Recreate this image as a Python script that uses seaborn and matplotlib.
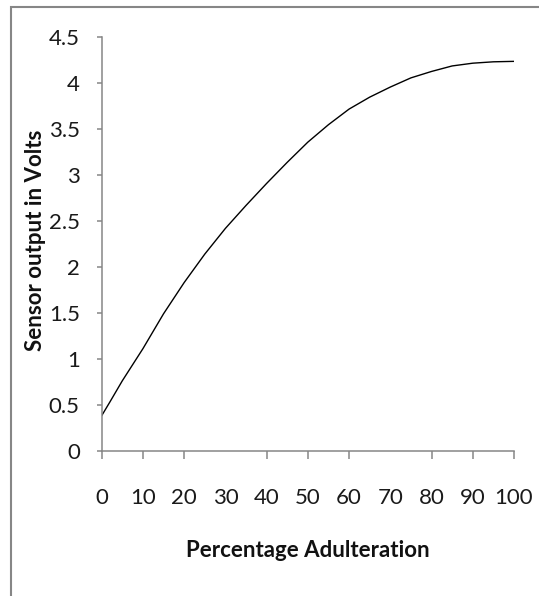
import numpy as np
import pandas as pd
import matplotlib
matplotlib.use("Agg")
import matplotlib.pyplot as plt
from matplotlib.patches import Rectangle
import seaborn as sns

# --- datos ---
adulteracion = [0, 2, 5, 10, 15, 20, 25, 30, 35, 40, 45, 50,
                55, 60, 65, 70, 75, 80, 85, 90, 95, 100]
voltaje = [0.38, 0.53, 0.76, 1.11, 1.49, 1.83, 2.14, 2.42, 2.67, 2.91, 3.14, 3.36,
           3.55, 3.72, 3.85, 3.96, 4.06, 4.13, 4.19, 4.22, 4.235, 4.24]
xticks = [0, 10, 20, 30, 40, 50, 60, 70, 80, 90, 100]
yticks = [0, 0.5, 1, 1.5, 2, 2.5, 3, 3.5, 4, 4.5]
ytick_labels = ["0", "0.5", "1", "1.5", "2", "2.5", "3", "3.5", "4", "4.5"]

df = pd.DataFrame({"x": adulteracion, "y": voltaje})

sns.set_style("white")
plt.rcParams["font.family"] = ["Lato", "DejaVu Sans"]

gris = "#868686"
fig = plt.figure(figsize=(5.39, 5.96), dpi=100)
ax = fig.add_axes([0.1887, 0.2441, 0.7649, 0.693])

sns.lineplot(data=df, x="x", y="y", ax=ax, color="black", linewidth=1.0)

ax.set_xlim(0, 100)
ax.set_ylim(0, 4.5)
ax.set_xticks(xticks)
ax.set_xticklabels([str(v) for v in xticks])
ax.set_yticks(yticks)
ax.set_yticklabels(ytick_labels)

for s in ["top", "right"]:
    ax.spines[s].set_visible(False)
for s in ["left", "bottom"]:
    ax.spines[s].set_color(gris)
    ax.spines[s].set_linewidth(1.1)

ax.tick_params(axis="x", direction="out", length=5.8, width=1.1, color=gris,
               pad=21, labelsize=16, labelcolor="#1a1a1a", bottom=True)
ax.tick_params(axis="y", direction="out", length=3.8, width=1.1, color=gris,
               pad=12, labelsize=16, labelcolor="#1a1a1a", left=True)

# en el original faltan las marcas de 30 y 70
for i, t in enumerate(ax.xaxis.get_major_ticks()):
    if xticks[i] in (30, 70):
        t.tick1line.set_visible(False)

ax.set_xlabel("Percentage Adulteration", fontsize=16, fontweight="bold", color="#111111")
ax.set_ylabel("Sensor output in Volts", fontsize=16, fontweight="bold", color="#111111")
ax.xaxis.label.set_va("center")
ax.yaxis.label.set_va("center")
ax.xaxis.set_label_coords(0.5, -0.241)
ax.yaxis.set_label_coords(-0.160, 0.51)

# marco del área del gráfico
fig.add_artist(Rectangle((11 / 539, -0.1), 1.2, 1 - 6.5 / 596 + 0.1,
                         transform=fig.transFigure, fill=False,
                         edgecolor=gris, linewidth=1.5))

fig.savefig("out.png", dpi=100)
